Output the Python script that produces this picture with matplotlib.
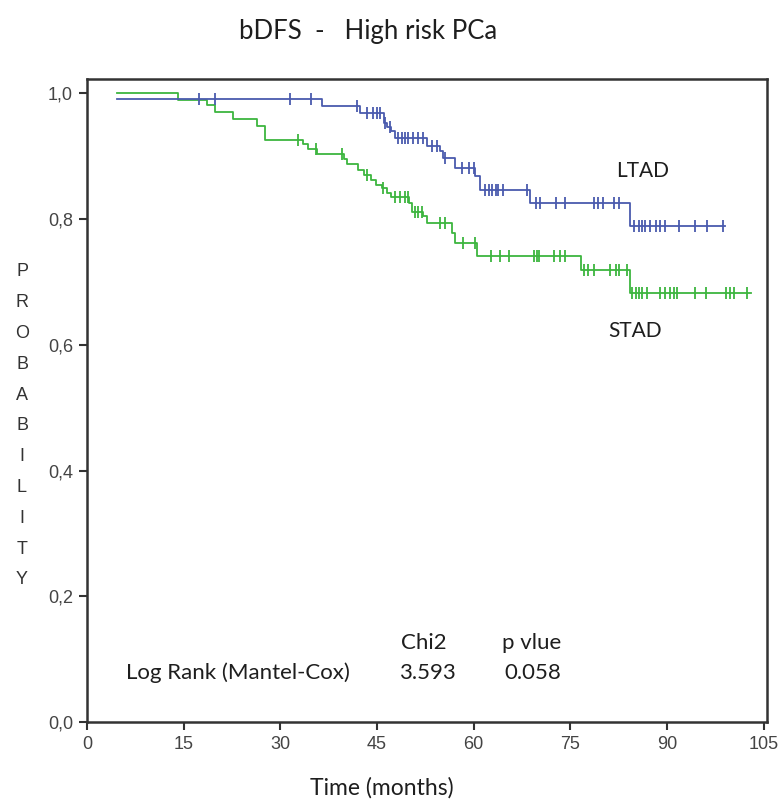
import numpy as np
import matplotlib
matplotlib.use('Agg')
import matplotlib.pyplot as plt

# LTAD (blue) - Kaplan-Meier steps
ltad_start = 4.6
ltad_s0 = 0.991
ltad_end = 99.0
ltad_event_t = [36.5, 42.4, 46.0, 46.6, 47.2, 47.8, 52.7, 54.8, 55.3, 57.1,
                60.2, 61.0, 68.8, 84.2]
ltad_surv = [0.980, 0.969, 0.953, 0.947, 0.940, 0.929, 0.916, 0.908, 0.897, 0.881,
             0.868, 0.847, 0.826, 0.789]
ltad_cens = [17.3, 19.9, 31.5, 34.8, 41.9, 43.4, 44.4, 45.0, 45.5, 46.3, 47.0,
             48.3, 48.9, 49.4, 49.8, 50.6, 51.4, 52.2, 53.5, 54.3, 55.6, 58.2, 59.2,
             60.0, 61.8, 62.3, 62.8, 63.4, 63.8, 64.6, 68.3, 69.6, 70.3, 72.7, 74.2,
             78.6, 79.3, 80.1, 81.7, 82.5, 84.8, 85.6, 86.1, 86.6, 87.4, 88.2, 88.9,
             89.7, 91.8, 94.4, 96.2, 98.6]

# STAD (green)
stad_start = 4.6
stad_s0 = 1.0
stad_end = 103.0
stad_event_t = [14.1, 18.6, 19.9, 22.7, 26.3, 27.6, 33.5, 34.3, 35.7, 39.8, 40.4,
                42.0, 43.0, 44.1, 44.8, 45.8, 46.6, 47.1, 49.9, 50.4, 52.2, 52.7,
                56.6, 57.1, 60.5, 76.6, 84.2]
stad_surv = [0.990, 0.981, 0.970, 0.960, 0.949, 0.926, 0.920, 0.912, 0.904, 0.895,
             0.887, 0.879, 0.871, 0.863, 0.855, 0.850, 0.842, 0.836, 0.826, 0.812,
             0.805, 0.794, 0.778, 0.762, 0.741, 0.720, 0.682]
stad_cens = [32.8, 35.5, 39.5, 43.4, 45.9, 47.8, 48.6, 49.4, 49.8, 50.9, 51.4, 52.0,
             54.8, 55.6, 58.4, 60.2, 62.6, 64.1, 65.4, 69.3, 69.8, 70.1, 72.4, 73.4,
             74.2, 77.1, 77.8, 78.6, 81.2, 82.0, 82.5, 83.8, 84.6, 85.1, 85.6, 86.1,
             86.9, 88.9, 89.7, 90.5, 91.0, 91.5, 94.4, 96.0, 99.1, 99.8, 100.4, 102.4]

x_ticks = [0, 15, 30, 45, 60, 75, 90, 105]
y_ticks = [0.0, 0.2, 0.4, 0.6, 0.8, 1.0]
y_ticklabels = ['0,0', '0,2', '0,4', '0,6', '0,8', '1,0']

BLUE = '#4a5aae'
GREEN = '#3db53f'
TXT = 'Lato'
INK = '#1e1e1e'


def km_curve(ax, start, s0, end, ev_t, ev_s, cens, color):
    t = np.concatenate([[start], ev_t, [end]])
    s = np.concatenate([[s0], ev_s, [ev_s[-1]]])
    ax.step(t, s, where='post', color=color, linewidth=1.3)
    levels = np.concatenate([[s0], ev_s])
    cy = levels[np.searchsorted(ev_t, cens, side='right')]
    ax.plot(cens, cy, linestyle='none', marker='|', markersize=8,
            markeredgewidth=1.3, color=color)


def ftext(x, y, s, size, ha='center', family=TXT, color=INK):
    # positions given in pixels of the 781x801 figure
    fig.text(x / 781, 1 - y / 801, s, family=family, fontsize=size,
             ha=ha, va='center', color=color)


fig = plt.figure(figsize=(7.81, 8.01), dpi=100)
ax = fig.add_axes([0.1114, 0.0983, 0.8707, 0.8031])

km_curve(ax, stad_start, stad_s0, stad_end, stad_event_t, stad_surv, stad_cens, GREEN)
km_curve(ax, ltad_start, ltad_s0, ltad_end, ltad_event_t, ltad_surv, ltad_cens, BLUE)

ax.set_xlim(0, 105.5)
ax.set_ylim(0, 1.023)
ax.set_xticks(x_ticks)
ax.set_xticklabels([str(v) for v in x_ticks], fontfamily='Liberation Sans',
                   fontsize=13, color='#444444')
ax.set_yticks(y_ticks)
ax.set_yticklabels(y_ticklabels, fontfamily='Liberation Sans', fontsize=13,
                   color='#444444')
ax.tick_params(direction='out', length=6, width=1.5, color='#333333', pad=4)
for sp in ax.spines.values():
    sp.set_linewidth(1.8)
    sp.set_color('#333333')

# title & axis labels
ftext(368, 32, 'bDFS  -   High risk PCa', 18.5)
ftext(382, 788, 'Time (months)', 16.5)
for i, ch in enumerate('PROBABILITY'):
    ftext(22, 272 + i * 30.8, ch, 13, family='Liberation Sans', color='#333333')

# curve labels
ftext(643, 171, 'LTAD', 15)
ftext(635, 331, 'STAD', 15)

# log-rank table
ftext(424, 643, 'Chi2', 16)
ftext(532, 643, 'p vlue', 16)
ftext(126, 673, 'Log Rank (Mantel-Cox)', 16, ha='left')
ftext(427, 673, '3.593', 16)
ftext(533, 673, '0.058', 16)

fig.savefig('out.png', dpi=100)
